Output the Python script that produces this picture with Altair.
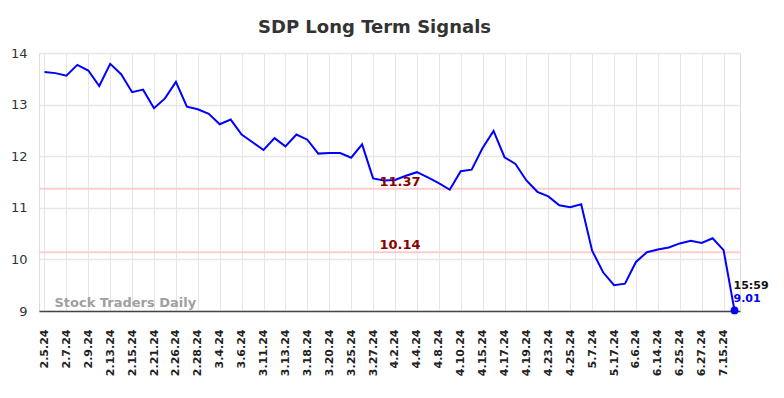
import altair as alt
import pandas as pd

dates = [
    "2.5.24", "2.6.24", "2.7.24", "2.8.24", "2.9.24", "2.12.24", "2.13.24", "2.14.24",
    "2.15.24", "2.16.24", "2.21.24", "2.22.24", "2.26.24", "2.27.24", "2.28.24", "2.29.24",
    "3.4.24", "3.5.24", "3.6.24", "3.7.24", "3.11.24", "3.12.24", "3.13.24", "3.14.24",
    "3.18.24", "3.19.24", "3.20.24", "3.21.24", "3.25.24", "3.26.24", "3.27.24", "3.28.24",
    "4.2.24", "4.3.24", "4.4.24", "4.5.24", "4.8.24", "4.9.24", "4.10.24", "4.11.24",
    "4.15.24", "4.16.24", "4.17.24", "4.18.24", "4.19.24", "4.22.24", "4.23.24", "4.24.24",
    "4.25.24", "4.26.24", "5.7.24", "5.8.24", "5.17.24", "5.20.24", "6.6.24", "6.7.24",
    "6.14.24", "6.17.24", "6.25.24", "6.26.24", "6.27.24", "6.28.24", "7.15.24", "7.16.24",
]
values = [
    13.63, 13.61, 13.56, 13.77, 13.66, 13.36, 13.79, 13.59,
    13.24, 13.29, 12.93, 13.12, 13.44, 12.96, 12.91, 12.82,
    12.62, 12.71, 12.42, 12.27, 12.12, 12.35, 12.19, 12.42,
    12.32, 12.05, 12.06, 12.06, 11.97, 12.23, 11.57, 11.53,
    11.54, 11.62, 11.69, 11.59, 11.48, 11.35, 11.71, 11.74,
    12.16, 12.49, 11.98, 11.85, 11.53, 11.31, 11.22, 11.05,
    11.01, 11.07, 10.17, 9.75, 9.50, 9.53, 9.95, 10.14,
    10.19, 10.23, 10.31, 10.36, 10.32, 10.41, 10.18, 9.01,
]
tick_labels = dates[0::2]
signal_levels = [11.37, 10.14]
signal_texts = ["11.37", "10.14"]
last_time = "15:59"
last_value_text = "9.01"
watermark = "Stock Traders Daily"

df = pd.DataFrame({"date": dates, "value": values})
last = df.iloc[[-1]].copy()

FONT = "DejaVu Sans"

x_scale = alt.Scale(type="point", padding=0.5, domain=dates)
y_scale = alt.Scale(domain=[9, 14], nice=False, zero=False)

x_enc = alt.X(
    "date:N", scale=x_scale, sort=dates, title=None,
    axis=alt.Axis(
        values=tick_labels, labelAngle=-90, labelFont=FONT, labelFontSize=11,
        labelFontWeight="bold", labelColor="#222", labelPadding=18, ticks=False,
        domain=True, domainColor="#444", domainWidth=1.5,
        grid=True, gridColor="#e6e6e6", gridWidth=1,
    ),
)
y_enc = alt.Y(
    "value:Q", scale=y_scale, title=None,
    axis=alt.Axis(
        values=[9, 10, 11, 12, 13, 14], labelFont=FONT, labelFontSize=13,
        labelColor="#333", labelPadding=12, ticks=False, domain=False,
        grid=True, gridColor="#e6e6e6", gridWidth=1.5,
    ),
)

line = alt.Chart(df).mark_line(color="#0000ff", strokeWidth=2).encode(x=x_enc, y=y_enc)

sig_df = pd.DataFrame({"level": signal_levels, "label": signal_texts, "date": ["4.2.24", "4.2.24"]})
rules = alt.Chart(sig_df).mark_rule(color="#ffcccc", strokeWidth=2).encode(
    y=alt.Y("level:Q", scale=y_scale)
)
sig_text = alt.Chart(sig_df).mark_text(
    font=FONT, fontSize=13, fontWeight="bold", color="#8b0000",
    align="center", baseline="alphabetic", dx=5, dy=-3,
).encode(
    x=alt.X("date:N", scale=x_scale, sort=dates),
    y=alt.Y("level:Q", scale=y_scale),
    text="label:N",
)

wm_df = pd.DataFrame({"date": [dates[1]], "value": [9.0], "label": [watermark]})
wm = alt.Chart(wm_df).mark_text(
    font=FONT, fontSize=13, fontWeight="bold", color="#a0a0a0",
    align="left", baseline="alphabetic", dx=-1, dy=-4,
).encode(
    x=alt.X("date:N", scale=x_scale, sort=dates),
    y=alt.Y("value:Q", scale=y_scale),
    text="label:N",
)

dot = alt.Chart(last).mark_point(filled=True, color="#0000ff", size=60, opacity=1).encode(
    x=alt.X("date:N", scale=x_scale, sort=dates),
    y=alt.Y("value:Q", scale=y_scale),
)
last["t"] = last_time
last["v"] = last_value_text
t1 = alt.Chart(last).mark_text(
    font=FONT, fontSize=11, fontWeight="bold", color="#111",
    align="left", baseline="alphabetic", dx=-1, dy=-21,
).encode(
    x=alt.X("date:N", scale=x_scale, sort=dates),
    y=alt.Y("value:Q", scale=y_scale),
    text="t:N",
)
t2 = alt.Chart(last).mark_text(
    font=FONT, fontSize=11, fontWeight="bold", color="#0000ff",
    align="left", baseline="alphabetic", dx=-1, dy=-8,
).encode(
    x=alt.X("date:N", scale=x_scale, sort=dates),
    y=alt.Y("value:Q", scale=y_scale),
    text="v:N",
)

chart = alt.layer(rules, line, sig_text, wm, dot, t1, t2).properties(
    width=701,
    height=258,
    title=alt.TitleParams(
        "SDP Long Term Signals", font=FONT, fontSize=18, fontWeight="bold",
        color="#333", anchor="middle", dx=-15, offset=10,
    ),
    autosize=alt.AutoSizeParams(type="none"),
    padding={"left": 31, "top": 45, "right": 36, "bottom": 79},
).configure_view(stroke=None).configure(background="white")

chart.save("out.html", embed_options={"renderer": "svg", "actions": False})
